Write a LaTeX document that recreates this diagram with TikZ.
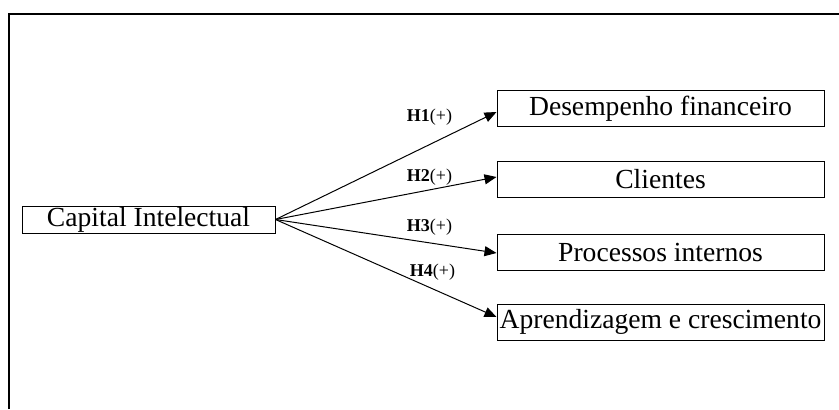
\documentclass[tikz,border=0pt]{standalone}
\usepackage{fontspec}
\setmainfont{Liberation Serif}
\usetikzlibrary{arrows.meta, positioning}

\begin{document}
\begin{tikzpicture}[x=0.5pt, y=-0.5pt,
  construct/.style={draw, line width=0.5pt, minimum width=163.5pt, minimum height=18pt, inner sep=0pt, align=center, font=\fontsize{13.8}{16}\selectfont},
  source/.style={construct, minimum width=126.5pt, minimum height=13.5pt},
  arr/.style={-{Triangle[length=6pt, width=5pt]}, line width=0.5pt},
  lbl/.style={font=\fontsize{9}{11}\selectfont, inner sep=1pt}
]
\useasboundingbox (0,0) rectangle (839,409);

% frame
\draw[line width=1pt] (9,409) -- (9,14) -- (839,14);

\node[source]    (cap) at (148.5, 219.5) {Capital Intelectual};
\node[construct] (fin) at (660.5, 108.5) {Desempenho financeiro};
\node[construct] (cli) at (660.5, 179)   {Clientes};
\node[construct] (pro) at (660.5, 252)   {Processos internos};
\node[construct] (apr) at (660.5, 322)   {Aprendizagem e crescimento};

\draw[arr] (cap.east) -- (fin.west |- 0,112);
\draw[arr] (cap.east) -- (cli.west |- 0,177);
\draw[arr] (cap.east) -- (pro.west |- 0,253);
\draw[arr] (cap.east) -- (apr.west |- 0,317);

\node[lbl] (h1) at (429.5, 117) {\textbf{H1}(+)};
\node[lbl] (h2) at (429.5, 177) {\textbf{H2}(+)};
\node[lbl] (h3) at (429.5, 227) {\textbf{H3}(+)};
\node[lbl] (h4) at (432.5, 272) {\textbf{H4}(+)};

\end{tikzpicture}
\end{document}
